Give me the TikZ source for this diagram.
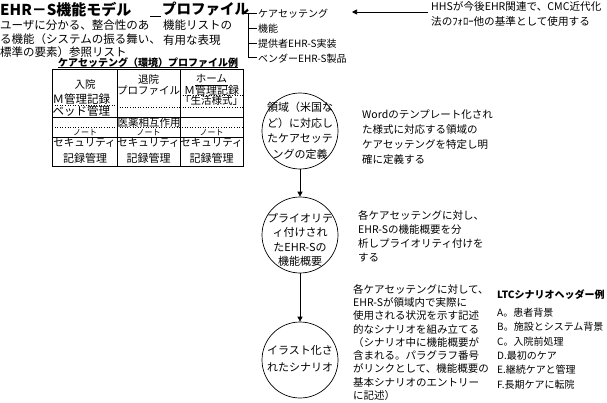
\documentclass[tikz,border=0pt]{standalone}
\usepackage{fontspec}
\setmainfont{Noto Sans CJK JP}
\usetikzlibrary{arrows.meta}
\tikzset{
  txt/.style={inner sep=0pt, anchor=north west, align=left},
  ctxt/.style={inner sep=0pt, align=center},
  cell/.style={inner sep=0pt, font=\fontsize{10.5}{12}\selectfont},
  lbl/.style={inner sep=0pt, anchor=west, font=\fontsize{10}{12}\selectfont},
  flow/.style={circle, draw, line width=0.7pt, minimum size=76pt, inner sep=0pt},
  arr/.style={line width=0.7pt, -{Triangle[length=5pt,width=5pt]}},
  ln/.style={line width=0.7pt},
  dl/.style={line width=0.6pt, dotted}
}
\begin{document}
\begin{tikzpicture}[x=1pt,y=-1pt]
\useasboundingbox (0,0) rectangle (607,402);
\fill[white] (0,0) rectangle (607,402);
% titles
\node[txt, font=\fontsize{15}{18}\bfseries] (t1) at (0,2) {EHR－S機能モデル};
\node[txt, font=\fontsize{14.5}{18}\bfseries] (t2) at (162,2) {プロファイル};
\coordinate (u1) at (150,16);
\coordinate (u2) at (161,16);
\draw[ln] (u1) -- (u2);
\node[txt, font=\fontsize{11.5}{13.8}\selectfont] (usr) at (0,19.5) {ユーザに分かる、整合性のあ\\る機能（システムの振る舞い、\\標準の要素）参照リスト};
\node[txt, font=\fontsize{11.5}{15}\selectfont] (rep) at (163,20) {機能リストの\\有用な表現};
% tree
\node[lbl] (k1) at (258,13.5) {ケアセッテング};
\node[lbl] (k2) at (258,28.5) {機能};
\node[lbl] (k3) at (258,43.5) {提供者EHR-S実装};
\node[lbl] (k4) at (258,58.5) {ベンダーEHR-S製品};
\coordinate (tr0) at (242,13);
\coordinate (trv) at (248,13);
\coordinate (e1) at (257,13);
\coordinate (e2) at (257,28);
\coordinate (e3) at (257,43);
\coordinate (e4) at (257,57);
\draw[ln] (tr0) -- (e1);
\draw[ln] (trv) |- (e2);
\draw[ln] (trv) |- (e3);
\draw[ln] (trv) |- (e4);
% HHS
\node[txt, font=\fontsize{10.6}{15}\selectfont] (hhs) at (431,1) {HHSが今後EHR関連で、CMC近代化\\法のﾌｫﾛｰ他の基準として使用する};
\coordinate (hs) at (428,12);
\coordinate (he) at (352,12);
\draw[arr] (hs) -- (he);
% table
\node[txt, font=\fontsize{10}{12}\bfseries] (tt) at (58,58) {ケアセッテング（環境）プロファイル例};
\coordinate (ul1) at (58,67.5);
\coordinate (ul2) at (238,67.5);
\draw[ln] (ul1) -- (ul2);
\draw[ln] (52,69.5) rectangle (243,166);
\draw[ln] (117,69.5) -- (117,166);
\draw[ln] (180,69.5) -- (180,166);
\draw[ln] (52,117.5) -- (243,117.5);
\draw[ln] (52,137) -- (243,137);
\draw[dl] (52,127) -- (243,127);
\draw[dl] (52,105) -- (117,105);
\draw[dl] (117,107) -- (180,107);
\draw[dl] (180,95.5) -- (243,95.5);
\draw[dl] (180,107) -- (243,107);
\draw[ln] (195,85) -- (228,85);
\node[cell] (a1) at (85,85) {入院};
\node[cell] (b1) at (148.5,80) {退院};
\node[cell] (b2) at (148.5,91) {プロファイル};
\node[cell] (c1) at (211.5,79) {ホーム};
\node[cell, font=\fontsize{11}{12}\selectfont] (c2) at (211.5,90.5) {Ｍ管理記録};
\node[cell] (c3) at (211.5,101) {「生活様式」};
\node[cell, anchor=west, font=\fontsize{11.5}{12}\selectfont] (a2) at (52.5,99.5) {Ｍ管理記録};
\node[cell, anchor=west, font=\fontsize{11.5}{12}\selectfont] (a3) at (52.5,111) {ベッド管理};
\node[cell, font=\fontsize{10.5}{12}\selectfont] (m1) at (149,122.5) {医薬相互作用};
\node[cell, font=\fontsize{8}{10}\selectfont] (n1) at (85,132.5) {ノート};
\node[cell, font=\fontsize{8}{10}\selectfont] (n2) at (148.5,132.5) {ノート};
\node[cell, font=\fontsize{8}{10}\selectfont] (n3) at (211.5,132.5) {ノート};
\node[cell] (s1) at (84.5,143) {セキュリティ};
\node[cell] (s2) at (148.5,143) {セキュリティ};
\node[cell] (s3) at (211.5,143) {セキュリティ};
\node[cell, font=\fontsize{11}{12}\selectfont] (r1) at (85,158) {記録管理};
\node[cell, font=\fontsize{11}{12}\selectfont] (r2) at (148.5,158) {記録管理};
\node[cell, font=\fontsize{11}{12}\selectfont] (r3) at (211.5,158) {記録管理};
% flow
\node[flow] (f1) at (300,131) {};
\node[ctxt, font=\fontsize{11}{15.5}\selectfont] (f1t) at (300,131) {領域（米国な\\ど）に対応し\\たケアセッテ\\ングの定義};
\node[flow] (f2) at (300,235) {};
\node[ctxt, font=\fontsize{11}{14.5}\selectfont] (f2t) at (300,240) {プライオリテ\\ィ付けされ\\たEHR-Sの\\機能概要};
\node[flow] (f3) at (300,360) {};
\node[ctxt, font=\fontsize{11}{17}\selectfont] (f3t) at (300,359) {イラスト化さ\\れたシナリオ};
\draw[arr] (f1) -- (f2);
\draw[arr] (f2) -- (f3);
% descriptions
\node[txt, font=\fontsize{10.5}{14.8}\selectfont] (d1) at (362,110) {Wordのテンプレート化され\\た様式に対応する領域の\\ケアセッテングを特定し明\\確に定義する};
\node[txt, font=\fontsize{10.5}{14}\selectfont] (d2) at (358,210) {各ケアセッテングに対し、\\EHR-Sの機能概要を分\\析しプライオリティ付けを\\する};
\node[txt, font=\fontsize{10.5}{13.3}\selectfont] (d3) at (353,284) {各ケアセッテングに対して、\\EHR-Sが領域内で実際に\\使用される状況を示す記述\\的なシナリオを組み立てる\\（シナリオ中に機能概要が\\含まれる。パラグラフ番号\\がリンクとして、機能概要の\\基本シナリオのエントリー\\に記述）};
\node[txt, font=\fontsize{10}{12}\bfseries] (lh) at (497,290) {LTCシナリオヘッダー例};
\node[txt, font=\fontsize{10}{14.3}\selectfont] (ll) at (497,308) {A。患者背景\\B。施設とシステム背景\\C。入院前処理\\D.最初のケア\\E.継続ケアと管理\\F.長期ケアに転院};
\end{tikzpicture}
\end{document}
